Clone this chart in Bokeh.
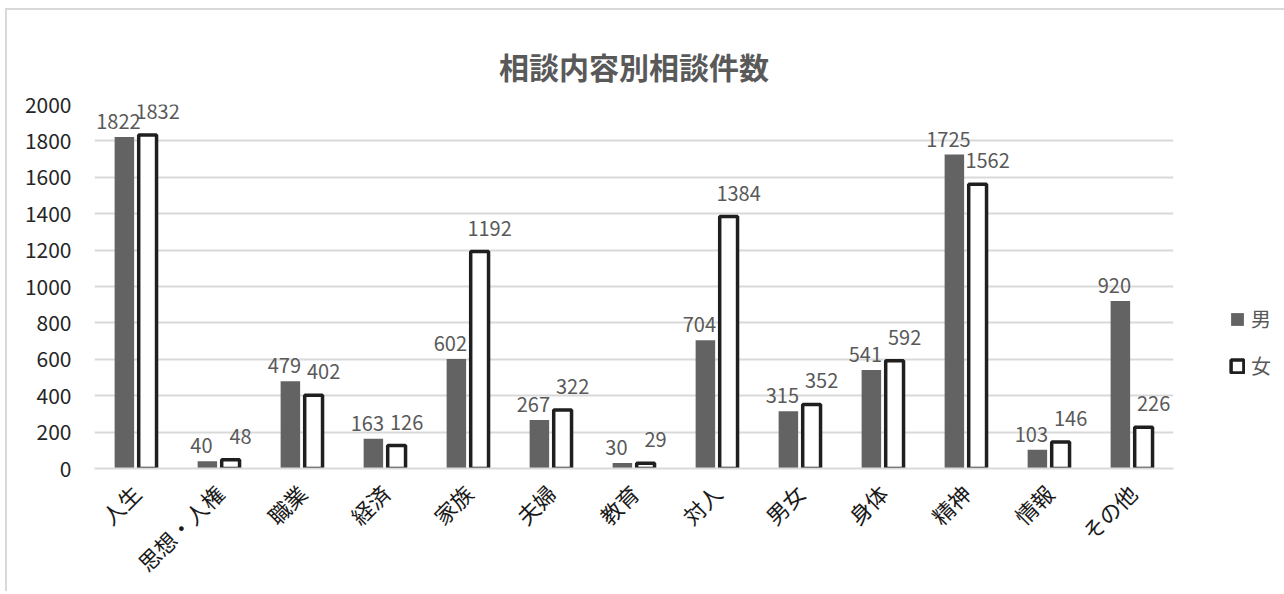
import math
from bokeh.plotting import figure
from bokeh.models import ColumnDataSource, FactorRange, Range1d, Legend, LegendItem, SingleIntervalTicker
from bokeh.transform import dodge
from bokeh.core.properties import value
from bokeh.embed import file_html
from bokeh.resources import INLINE

categories = ["人生", "思想・人権", "職業", "経済", "家族", "夫婦", "教育", "対人", "男女", "身体", "精神", "情報", "その他"]
male = [1822, 40, 479, 163, 602, 267, 30, 704, 315, 541, 1725, 103, 920]
female = [1832, 48, 402, 126, 1192, 322, 29, 1384, 352, 592, 1562, 146, 226]
series_names = ["男", "女"]

FONT = "Noto Sans CJK JP"

src = ColumnDataSource(dict(
    cat=categories, male=male, female=female,
    male_lbl=[str(v) for v in male], female_lbl=[str(v) for v in female],
))

p = figure(
    x_range=FactorRange(*categories, range_padding=0),
    y_range=Range1d(0, 2000),
    frame_width=1079, frame_height=364,
    min_border_left=87, min_border_top=94, min_border_bottom=100, min_border_right=103,
    output_backend="svg", toolbar_location=None,
    title="相談内容別相談件数",
    styles={"border-top": "2px solid #d9d9d9", "border-left": "2px solid #d9d9d9",
            "margin-left": "5px", "margin-top": "8px"},
)
p.x_range.factor_padding = 0
p.outline_line_color = None

p.title.align = "center"
p.title.text_font = FONT
p.title.text_font_size = "30px"
p.title.text_font_style = "bold"
p.title.text_color = "#595959"
p.title.standoff = 34

male_r = p.vbar(x=dodge("cat", -0.14, range=p.x_range), top="male", width=0.235, source=src,
                fill_color="#636363", line_color=None)
female_r = p.vbar(x=dodge("cat", 0.14, range=p.x_range), top="female", width=0.215, source=src,
                  fill_color="white", line_color="#1f1f1f", line_width=3.5)

p.text(x=dodge("cat", -0.14, range=p.x_range), y="male", text="male_lbl", source=src,
       text_font=value(FONT), text_font_size="20px", text_color="#595959",
       text_align="center", text_baseline="bottom", x_offset=-6, y_offset=-8)
p.text(x=dodge("cat", 0.14, range=p.x_range), y="female", text="female_lbl", source=src,
       text_font=value(FONT), text_font_size="20px", text_color="#595959",
       text_align="center", text_baseline="bottom", x_offset=10, y_offset=-16)

# axes
p.yaxis.ticker = SingleIntervalTicker(interval=200)
p.yaxis.axis_line_color = None
p.yaxis.major_tick_line_color = None
p.yaxis.minor_tick_line_color = None
p.yaxis.major_label_text_font = FONT
p.yaxis.major_label_text_font_size = "21px"
p.yaxis.major_label_text_color = "#262626"
p.yaxis.major_label_standoff = 17

p.xaxis.axis_line_color = "#d9d9d9"
p.xaxis.axis_line_width = 2
p.xaxis.major_tick_line_color = None
p.xaxis.minor_tick_line_color = None
p.xaxis.major_label_orientation = math.pi / 4
p.xaxis.major_label_text_font = FONT
p.xaxis.major_label_text_font_size = "22px"
p.xaxis.major_label_text_color = "#1a1a1a"
p.xaxis.major_label_standoff = 14

p.xgrid.grid_line_color = None
p.ygrid.grid_line_color = "#d9d9d9"
p.ygrid.grid_line_width = 2

legend = Legend(items=[LegendItem(label=series_names[0], renderers=[male_r]),
                       LegendItem(label=series_names[1], renderers=[female_r])],
                location=(56, 88), orientation="vertical",
                glyph_width=16, glyph_height=16, label_height=20,
                spacing=18, padding=0, margin=0, label_standoff=6,
                label_text_font=FONT, label_text_font_size="20px", label_text_color="#595959",
                border_line_color=None, background_fill_alpha=0)
p.add_layout(legend, "right")

open("out.html", "w").write(file_html(p, INLINE))
